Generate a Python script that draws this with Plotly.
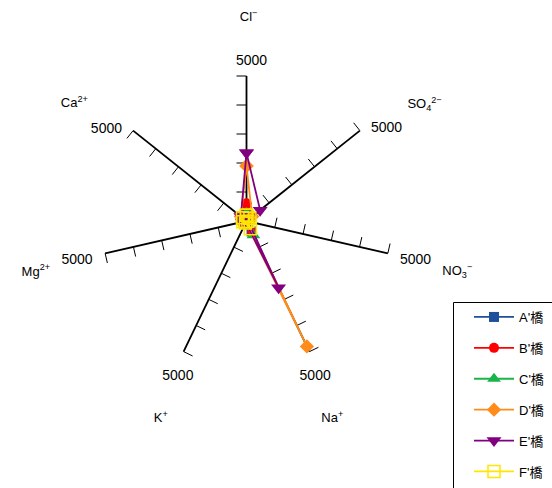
import math
import plotly.graph_objects as go

# ---- data ----
ions = ["Cl<sup>−</sup>", "SO<sub>4</sub><sup>2−</sup>", "NO<sub>3</sub><sup>−</sup>",
        "Na<sup>+</sup>", "K<sup>+</sup>", "Mg<sup>2+</sup>", "Ca<sup>2+</sup>"]
series_names = ["A'橋", "B'橋", "C'橋", "D'橋", "E'橋", "F'橋"]
A_vals = [250, 150, 30, 400, 40, 100, 200]
B_vals = [600, 150, 30, 450, 40, 100, 200]
C_vals = [280, 150, 30, 550, 50, 120, 180]
D_vals = [1900, 250, 30, 4800, 60, 150, 250]
E_vals = [2350, 600, 60, 2550, 60, 150, 250]
F_vals = [200, 150, 50, 300, 80, 130, 180]
tick_values = [1000, 2000, 3000, 4000, 5000]
axis_max = 5000
max_label = "5000"

# ---- styles ----
colors = ["#1F4E9C", "#FF0000", "#19B54A", "#FF8C1A", "#800080", "#FFE600"]
symbols = ["square", "circle", "triangle-up", "diamond", "triangle-down", "square-open"]
msizes = [10, 10, 12, 11, 13, 12]
FONT = "Arial, 'Liberation Sans', 'Noto Sans CJK JP', sans-serif"

n = len(ions)
angles = [i * 360.0 / n for i in range(n)]

fig = go.Figure()

# spokes
sr, st = [], []
for a in angles:
    sr += [0, axis_max, None]
    st += [a, a, None]
fig.add_trace(go.Scatterpolar(r=sr, theta=st, mode="lines",
                              line=dict(color="black", width=1.8),
                              showlegend=False, hoverinfo="skip"))
# ticks (counterclockwise side)
tick_len = 10 / 145 * axis_max
tr, tt = [], []
for a in angles:
    for v in tick_values:
        d = math.degrees(math.atan(tick_len / v))
        tr += [v, math.hypot(v, tick_len), None]
        tt += [a, a - d, None]
fig.add_trace(go.Scatterpolar(r=tr, theta=tt, mode="lines",
                              line=dict(color="black", width=1),
                              showlegend=False, hoverinfo="skip"))

# data series
all_vals = [A_vals, B_vals, C_vals, D_vals, E_vals, F_vals]
for k, (name, vals) in enumerate(zip(series_names, all_vals)):
    fig.add_trace(go.Scatterpolar(
        r=vals + [vals[0]], theta=angles + [angles[0]],
        mode="lines+markers", name=name, legendgroup=name,
        line=dict(color=colors[k], width=1.8),
        marker=dict(symbol=symbols[k], size=msizes[k], color=colors[k],
                    line=dict(color=colors[k], width=1.5 if k == 5 else 0)),
        cliponaxis=False))

# "5000" value labels (r in data units, theta offset in degrees)
val_r = [5517, 5793, 5983, 5862, 5862, 6000, 5776]
val_dt = [1.8, 5.0, 0.2, 1.9, -1.9, -0.2, -5.3]
fig.add_trace(go.Scatterpolar(
    r=val_r, theta=[a + d for a, d in zip(angles, val_dt)],
    mode="text", text=[max_label] * n, textposition="middle center",
    textfont=dict(family=FONT, size=14, color="black"),
    showlegend=False, hoverinfo="skip", cliponaxis=False))

# ion labels
ion_r = [7000, 7328, 7480, 7444, 7444, 7480, 7174]
ion_dt = [0.6, 5.5, 0.8, 2.3, -2.3, -0.9, -4.4]
fig.add_trace(go.Scatterpolar(
    r=ion_r, theta=[a + d for a, d in zip(angles, ion_dt)],
    mode="text", text=ions, textposition="middle center",
    textfont=dict(family=FONT, size=13, color="black"),
    showlegend=False, hoverinfo="skip", cliponaxis=False))

W, H = 552, 488
cx, cy = 246.5, 221
r_range = 7520
R = 145 * r_range / axis_max
fig.update_layout(
    width=W, height=H,
    margin=dict(l=0, r=0, t=0, b=0, autoexpand=False),
    paper_bgcolor="white", plot_bgcolor="white",
    font=dict(family=FONT, size=13, color="black"),
    polar=dict(
        domain=dict(x=[(cx - R) / W, (cx + R) / W],
                    y=[(H - cy - R) / H, (H - cy + R) / H]),
        bgcolor="rgba(0,0,0,0)",
        radialaxis=dict(visible=False, range=[0, r_range]),
        angularaxis=dict(thetaunit="degrees", rotation=90, direction="clockwise",
                         showgrid=False, showline=False, showticklabels=False,
                         ticks=""),
    ),
    legend=dict(x=469 / W, y=1 - 302 / H, xanchor="left", yanchor="top",
                borderwidth=0, bgcolor="rgba(0,0,0,0)",
                font=dict(family=FONT, size=13, color="black"),
                tracegroupgap=11, itemwidth=40),
    shapes=[dict(type="rect", xref="paper", yref="paper",
                 x0=453.5 / W, x1=1.05, y0=-0.05, y1=1 - 302.5 / H,
                 line=dict(color="black", width=1), fillcolor="rgba(0,0,0,0)",
                 layer="below")],
    showlegend=True,
)

fig.write_html("out.html",
               config={"displayModeBar": False},
               post_script="document.body.style.margin='0px';document.body.style.overflow='hidden';")
